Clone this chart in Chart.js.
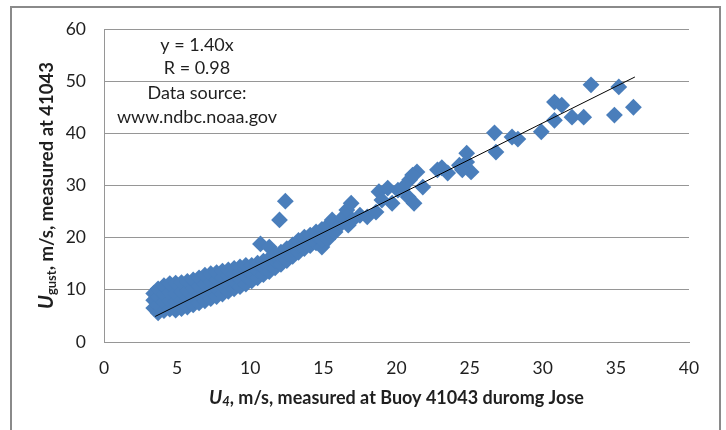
<!DOCTYPE html>
<html>
<head>
<meta charset="utf-8">
<script src="https://cdn.jsdelivr.net/npm/chart.js@4.4.1/dist/chart.umd.min.js"></script>
<style>
  html, body { margin: 0; padding: 0; background: #fff; }
  #wrap { position: relative; width: 726px; height: 430px; overflow: hidden; }
  #frame { position: absolute; left: 10px; top: 6px; width: 711px; height: 460px; border: 2px solid #8a8a8a; box-sizing: border-box; }
  #gustChart { position: absolute; left: 0; top: 0; }
</style>
</head>
<body>
<div id="wrap">
  <div id="frame"></div>
  <canvas id="gustChart" width="726" height="430"></canvas>
</div>
<script>
// U4 (x) and U_gust (y), one column of points per line
const u4 = [
  3.4, 3.4, 3.4,
  3.7, 3.7, 3.7, 3.7,
  4.1, 4.1, 4.1, 4.1,
  4.5, 4.5, 4.5, 4.5,
  4.9, 4.9, 4.9, 4.9,
  5.3, 5.3, 5.3, 5.3,
  5.7, 5.7, 5.7, 5.7,
  6.1, 6.1, 6.1, 6.1,
  6.5, 6.5, 6.5, 6.5,
  6.9, 6.9, 6.9, 6.9,
  7.3, 7.3, 7.3, 7.3,
  7.7, 7.7, 7.7, 7.7,
  8.1, 8.1, 8.1, 8.1,
  8.5, 8.5, 8.5, 8.5,
  8.9, 8.9, 8.9, 8.9,
  9.3, 9.3, 9.3, 9.3,
  9.7, 9.7, 9.7, 9.7,
  10.1, 10.1, 10.1,
  10.5, 10.5, 10.5,
  10.7,
  10.9, 10.9, 10.9,
  11.3, 11.3, 11.3, 11.3,
  11.7, 11.7, 11.7,
  12.0,
  12.1, 12.1, 12.1,
  12.4,
  12.5, 12.5, 12.5,
  12.9, 12.9, 12.9,
  13.3, 13.3, 13.3,
  13.7, 13.7, 13.7,
  14.1, 14.1, 14.1,
  14.5, 14.5, 14.5,
  14.9, 14.9, 14.9, 14.9,
  15.3, 15.3, 15.3,
  15.6, 15.8, 16.2, 16.3, 16.6, 16.9, 16.7, 17.0, 17.5, 18.0, 18.6,
  18.8, 19.4, 19.0, 19.7, 20.1, 20.9, 21.4, 20.8, 21.2, 21.8, 21.1, 20.4,
  22.8, 23.1, 23.5, 24.3, 24.8, 24.8, 25.1, 24.5,
  26.7, 26.8, 27.9, 28.3, 29.9, 30.8, 30.8, 31.3, 32.0, 32.8, 33.3, 34.9, 35.2, 36.2
];
const uGust = [
  6.5, 8.0, 9.3,
  5.6, 7.1, 8.7, 10.2,
  6.0, 7.6, 9.2, 10.8,
  6.3, 7.9, 9.5, 11.2,
  6.1, 7.7, 9.3, 11.3,
  6.4, 8.0, 9.6, 11.4,
  6.7, 8.3, 9.9, 11.6,
  7.1, 8.7, 10.3, 11.9,
  7.5, 9.1, 10.7, 12.3,
  7.9, 9.5, 11.1, 12.8,
  8.3, 9.9, 11.5, 13.1,
  8.7, 10.3, 11.9, 13.3,
  9.2, 10.8, 12.3, 13.6,
  9.7, 11.2, 12.7, 13.8,
  10.2, 11.7, 13.1, 14.1,
  10.6, 12.1, 13.5, 14.4,
  11.1, 12.6, 14.0, 14.7,
  11.7, 13.1, 14.7,
  12.3, 13.7, 15.1,
  18.8,
  12.9, 14.3, 15.5,
  13.5, 14.9, 16.0, 18.2,
  14.2, 15.6, 16.7,
  23.4,
  14.9, 16.3, 17.2,
  27.0,
  15.6, 17.0, 17.9,
  16.4, 17.7, 18.6,
  17.2, 18.5, 19.5,
  17.9, 19.2, 20.1,
  18.5, 19.8, 20.5,
  19.0, 20.4, 21.1,
  18.2, 19.6, 20.9, 21.6,
  19.7, 21.1, 22.3,
  23.4, 21.1, 22.6, 23.8, 25.3, 26.6, 22.4, 23.4, 24.3, 24.0, 24.9,
  28.8, 29.5, 27.2, 26.6, 29.1, 31.1, 32.6, 27.8, 26.6, 29.7, 32.0, 29.5,
  33.0, 33.4, 32.4, 33.9, 34.5, 36.2, 32.6, 33.0,
  40.1, 36.4, 39.3, 38.9, 40.3, 42.5, 46.0, 45.4, 43.1, 43.1, 49.3, 43.5, 48.9, 45.0
];

// linear fit y = 1.40x, drawn over the data range
const fitX = [3.5, 36.3];
const fitY = [4.9, 50.8];

const xTicks = [0, 5, 10, 15, 20, 25, 30, 35, 40];
const yTicks = [0, 10, 20, 30, 40, 50, 60];

const noteLines = ["y = 1.40x", "R = 0.98", "Data source:", "www.ndbc.noaa.gov"];

const FONT = "Lato, 'Open Sans', sans-serif";
const INK = "#1f1f1f";

// draws a run of text pieces (some italic / subscript) centred on x
function drawRich(ctx, parts, x, y) {
  let total = 0;
  parts.forEach(p => {
    ctx.font = p.font;
    p.w = ctx.measureText(p.t).width;
    total += p.w;
  });
  let cx = x - total / 2;
  parts.forEach(p => {
    ctx.font = p.font;
    ctx.fillText(p.t, cx, y + (p.dy || 0));
    cx += p.w;
  });
}

const titlesPlugin = {
  id: "titles",
  afterDraw(chart) {
    const ctx = chart.ctx;
    const area = chart.chartArea;
    ctx.save();
    ctx.fillStyle = INK;
    ctx.textBaseline = "middle";
    ctx.textAlign = "left";

    // x axis title
    drawRich(ctx, [
      { t: "U", font: "italic bold 19px " + FONT },
      { t: "4", font: "italic bold 13px " + FONT, dy: 4 },
      { t: ", m/s, measured at Buoy 41043 duromg Jose", font: "bold 18px " + FONT }
    ], (area.left + area.right) / 2, 398);

    // y axis title
    ctx.translate(47, (area.top + area.bottom) / 2);
    ctx.rotate(-Math.PI / 2);
    drawRich(ctx, [
      { t: "U", font: "italic bold 20px " + FONT },
      { t: "gust", font: "bold 13px " + FONT, dy: 5 },
      { t: ", m/s, measured at 41043", font: "bold 18.5px " + FONT }
    ], 0, 0);
    ctx.restore();

    // text box in the upper left
    ctx.save();
    ctx.fillStyle = INK;
    ctx.font = "18px " + FONT;
    ctx.textAlign = "center";
    ctx.textBaseline = "middle";
    const noteY = [45, 68, 93, 117];
    noteLines.forEach((line, i) => ctx.fillText(line, 197, noteY[i]));
    ctx.restore();
  }
};

const points = u4.map((x, i) => ({ x: x, y: uGust[i] }));
const fit = fitX.map((x, i) => ({ x: x, y: fitY[i] }));

new Chart(document.getElementById("gustChart"), {
  type: "scatter",
  data: {
    datasets: [
      {
        label: "fit",
        data: fit,
        showLine: true,
        borderColor: "#000",
        borderWidth: 1,
        pointRadius: 0,
        order: 0
      },
      {
        label: "U gust",
        data: points,
        pointStyle: "rectRot",
        pointRadius: 8.4,
        pointBackgroundColor: "#4a7ebb",
        pointBorderWidth: 0,
        pointBorderColor: "#4a7ebb",
        order: 1
      }
    ]
  },
  options: {
    responsive: false,
    animation: false,
    devicePixelRatio: 1,
    events: [],
    layout: { padding: { left: 0, top: 29, right: 37, bottom: 0 } },
    plugins: {
      legend: { display: false },
      tooltip: { enabled: false }
    },
    scales: {
      x: {
        min: 0,
        max: 40,
        afterFit: s => { s.height = 88; },
        afterBuildTicks: s => { s.ticks = xTicks.map(v => ({ value: v })); },
        grid: { display: false, drawTicks: false },
        border: { display: true, color: "#969696", width: 1 },
        ticks: { padding: 16, color: INK, font: { family: FONT, size: 17.5 }, maxRotation: 0 }
      },
      y: {
        min: 0,
        max: 60,
        afterFit: s => { s.width = 104; },
        afterBuildTicks: s => { s.ticks = yTicks.map(v => ({ value: v })); },
        grid: { color: "#969696", lineWidth: 1, drawTicks: false },
        border: { display: true, color: "#969696", width: 1 },
        ticks: { padding: 18, color: INK, font: { family: FONT, size: 17.5 } }
      }
    }
  },
  plugins: [titlesPlugin]
});
</script>
</body>
</html>
